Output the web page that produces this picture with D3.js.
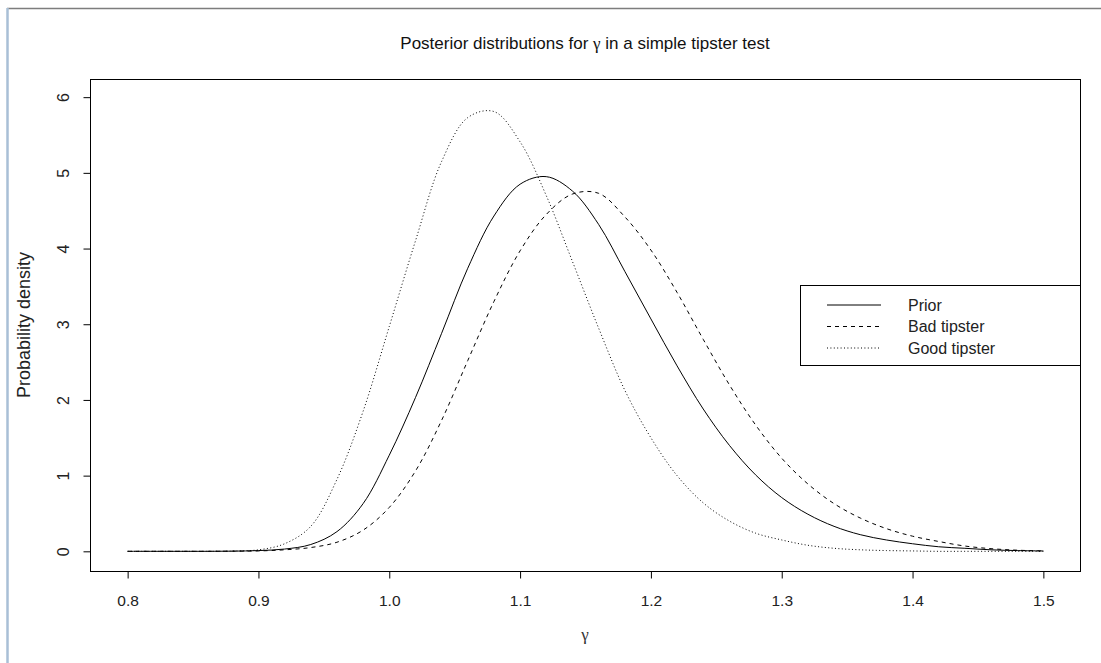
<!DOCTYPE html>
<html>
<head>
<meta charset="utf-8">
<title>Posterior distributions</title>
<script src="https://d3js.org/d3.v7.min.js"></script>
<style>
  body { margin: 0; background: #fff; }
  svg { display: block; font-family: "Liberation Sans", Arial, sans-serif; }
  .curve { fill: none; stroke: #000; stroke-width: 1; }
</style>
</head>
<body>
<div id="chart"></div>
<script>
// gamma grid, step 0.02
const gammaValues = d3.range(36).map(i => +(0.8 + i * 0.02).toFixed(2));

const prior = [0, 0, 0, 0, 0.002, 0.01, 0.03, 0.09, 0.26, 0.63,
  1.27, 2.03, 2.88, 3.74, 4.43, 4.85, 4.95, 4.76, 4.32, 3.70,
  3.07, 2.45, 1.88, 1.40, 1.01, 0.71, 0.49, 0.33, 0.22, 0.15,
  0.10, 0.06, 0.04, 0.02, 0.01, 0.005];

const badTipster = [0, 0, 0, 0, 0.002, 0.005, 0.02, 0.05, 0.12, 0.28,
  0.58, 1.06, 1.73, 2.52, 3.30, 3.97, 4.45, 4.72, 4.73, 4.42,
  3.98, 3.42, 2.80, 2.20, 1.67, 1.23, 0.89, 0.63, 0.44, 0.30,
  0.20, 0.13, 0.07, 0.035, 0.015, 0.005];

const goodTipster = [0, 0, 0, 0, 0.003, 0.02, 0.10, 0.33, 0.95, 1.85,
  2.97, 4.10, 5.15, 5.73, 5.81, 5.41, 4.70, 3.83, 2.95, 2.13,
  1.50, 1.00, 0.64, 0.40, 0.24, 0.15, 0.08, 0.04, 0.02, 0.01,
  0.005, 0, 0, 0, 0, 0];

const xTicks = [0.8, 0.9, 1.0, 1.1, 1.2, 1.3, 1.4, 1.5];
const yTicks = [0, 1, 2, 3, 4, 5, 6];
const legendLabels = ["Prior", "Bad tipster", "Good tipster"];
const dashes = [null, "4,4", "1,2.4"];

const W = 1101, H = 663;
const svg = d3.select("#chart").append("svg")
  .attr("width", W).attr("height", H);

// window frame
svg.append("line").attr("x1", 7).attr("x2", W).attr("y1", 8.5).attr("y2", 8.5)
  .attr("stroke", "#7d7d7d").attr("stroke-width", 1.5);
svg.append("line").attr("x1", 7.5).attr("x2", 7.5).attr("y1", 8).attr("y2", H)
  .attr("stroke", "#a9bfd6").attr("stroke-width", 2.5);

const x = d3.scaleLinear().domain([0.772, 1.528]).range([91, 1080]);
const y = d3.scaleLinear().domain([-0.26, 6.24]).range([571, 79]);

// plot box
svg.append("rect")
  .attr("x", 90.5).attr("y", 79.5)
  .attr("width", 990).attr("height", 492)
  .attr("fill", "none").attr("stroke", "#000");

// x axis
const xAxis = svg.append("g")
  .attr("transform", "translate(0,571.5)")
  .call(d3.axisBottom(x).tickValues(xTicks).tickFormat(d3.format(".1f"))
    .tickSize(7).tickPadding(16));
xAxis.select(".domain").remove();
xAxis.selectAll("text").attr("font-size", 15.5).attr("fill", "#222")
  .attr("font-family", "Liberation Sans, Arial, sans-serif");

// y axis
const yAxis = svg.append("g")
  .attr("transform", "translate(90.5,0)")
  .call(d3.axisLeft(y).tickValues(yTicks).tickFormat(d3.format("d"))
    .tickSize(7).tickPadding(0));
yAxis.select(".domain").remove();
yAxis.selectAll("text")
  .attr("font-size", 16).attr("fill", "#222")
  .attr("font-family", "Liberation Sans, Arial, sans-serif")
  .attr("x", null)
  .attr("text-anchor", "middle")
  .attr("transform", "translate(-27,0) rotate(-90)")
  .attr("dy", "0.35em");

// titles
svg.append("text")
  .attr("x", 585).attr("y", 49)
  .attr("text-anchor", "middle").attr("font-size", 17).attr("fill", "#111")
  .call(t => {
    t.append("tspan").text("Posterior distributions for ");
    t.append("tspan").attr("font-family", "Liberation Serif, serif").text("γ");
    t.append("tspan").text(" in a simple tipster test");
  });

svg.append("text")
  .attr("transform", "translate(24,325) rotate(-90)")
  .attr("text-anchor", "middle").attr("dy", "0.35em")
  .attr("font-size", 18).attr("fill", "#222")
  .text("Probability density");

svg.append("text")
  .attr("x", 585).attr("y", 640)
  .attr("text-anchor", "middle").attr("font-size", 17).attr("fill", "#333")
  .attr("font-family", "Liberation Serif, serif")
  .text("γ");

// curves
const series = [prior, badTipster, goodTipster];
const line = d3.line()
  .x((d, i) => x(gammaValues[i]))
  .y(d => y(d))
  .curve(d3.curveCatmullRom);

series.forEach((s, k) => {
  svg.append("path")
    .datum(s)
    .attr("class", "curve")
    .attr("stroke-dasharray", dashes[k])
    .attr("d", line);
});

// legend
const lg = svg.append("g");
lg.append("rect")
  .attr("x", 800.5).attr("y", 285.5).attr("width", 280).attr("height", 80)
  .attr("fill", "#fff").attr("stroke", "#000");
legendLabels.forEach((lab, k) => {
  const ly = 305 + k * 21.5;
  lg.append("line")
    .attr("x1", 827).attr("x2", 881).attr("y1", ly).attr("y2", ly)
    .attr("stroke", "#000").attr("stroke-dasharray", dashes[k]);
  lg.append("text")
    .attr("x", 908).attr("y", ly).attr("dy", "0.35em")
    .attr("font-size", 16).attr("fill", "#222")
    .text(lab);
});
</script>
</body>
</html>
